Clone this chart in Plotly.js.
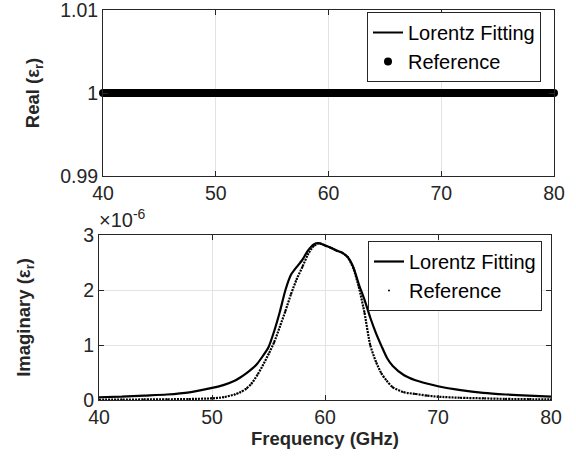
<!DOCTYPE html>
<html>
<head>
<meta charset="utf-8">
<script src="https://cdn.plot.ly/plotly-3.0.1.min.js"></script>
<style>html,body{margin:0;padding:0;background:#fff;}#chart{width:576px;height:458px;}</style>
</head>
<body>
<div id="chart"></div>
<script>
// Frequency samples (GHz)
const freq = [40,42,44,46,48,50,51,52,52.5,53,53.5,54,54.5,55,55.5,56,56.5,57,57.5,58,58.5,59,59.5,60,60.5,61,61.5,62,62.5,63,63.5,64,64.5,65,65.5,66,67,68,69,70,72,74,76,78,80];
// Real part of relative permittivity
const realFit = [1,1,1,1,1,1,1,1,1,1,1,1,1,1,1,1,1,1,1,1,1,1,1,1,1,1,1,1,1,1,1,1,1,1,1,1,1,1,1,1,1,1,1,1,1];
const realRef = [1,1,1,1,1,1,1,1,1,1,1,1,1,1,1,1,1,1,1,1,1,1,1,1,1,1,1,1,1,1,1,1,1,1,1,1,1,1,1,1,1,1,1,1,1];
// Imaginary part (units of 1e-6)
const imagFit = [0.05,0.06,0.08,0.10,0.14,0.22,0.27,0.35,0.41,0.48,0.56,0.66,0.80,0.96,1.25,1.60,2.00,2.28,2.42,2.55,2.72,2.83,2.85,2.81,2.77,2.72,2.68,2.60,2.42,2.10,1.82,1.50,1.22,0.98,0.76,0.62,0.45,0.36,0.30,0.25,0.18,0.13,0.10,0.08,0.06];
const imagRef = [0.005,0.008,0.01,0.013,0.018,0.03,0.05,0.10,0.14,0.20,0.30,0.45,0.63,0.83,1.05,1.33,1.62,1.93,2.20,2.42,2.65,2.80,2.85,2.81,2.77,2.72,2.68,2.60,2.40,2.05,1.58,1.00,0.70,0.48,0.34,0.23,0.14,0.11,0.08,0.06,0.04,0.03,0.02,0.015,0.01];
const xTicks = [40,50,60,70,80];
const realTicks = [0.99,1,1.01];
const realTickText = ['0.99','1','1.01'];
const imagTicks = [0,1,2,3];
const imagTickText = ['0','1','2','3'];

const FONT = '"Liberation Sans", Arial, Helvetica, sans-serif';
const AX = '#262626';
const GRID = '#e3e3e3';

const traces = [
  {x: freq, y: realRef, mode: 'lines', line: {color: '#000', width: 8}, showlegend: false, xaxis: 'x', yaxis: 'y', hoverinfo: 'skip'},
  {x: freq, y: realFit, mode: 'lines', name: 'Lorentz Fitting', line: {color: '#000', width: 2}, xaxis: 'x', yaxis: 'y', legend: 'legend'},
  {x: freq, y: realRef, mode: 'markers', name: 'Reference', marker: {color: '#000', size: 8}, xaxis: 'x', yaxis: 'y', legend: 'legend', cliponaxis: false},
  {x: freq, y: imagFit, mode: 'lines', name: 'Lorentz Fitting', line: {color: '#000', width: 2.2, shape: 'spline', smoothing: 0.6}, xaxis: 'x2', yaxis: 'y2', legend: 'legend2'},
  {x: freq, y: imagRef, mode: 'lines', line: {color: '#000', width: 2.2, shape: 'spline', smoothing: 0.6, dash: '2px,1px'}, showlegend: false, xaxis: 'x2', yaxis: 'y2', hoverinfo: 'skip'},
  {x: freq, y: imagRef, mode: 'markers', name: 'Reference', marker: {color: '#000', size: 2}, xaxis: 'x2', yaxis: 'y2', legend: 'legend2'}
];

function axis(extra) {
  return Object.assign({
    showline: true, linecolor: AX, linewidth: 1, mirror: 'ticks',
    ticks: 'inside', ticklen: 5, tickcolor: AX, tickwidth: 1,
    showgrid: true, gridcolor: GRID, gridwidth: 1, zeroline: false,
    ticklabeloverflow: 'allow',
    tickfont: {family: FONT, size: 19.5, color: AX}
  }, extra);
}

const legendStyle = {
  bgcolor: '#fff', bordercolor: AX, borderwidth: 1,
  font: {family: FONT, size: 20, color: '#000'},
  xanchor: 'left', yanchor: 'top', tracegroupgap: 0
};

const layout = {
  width: 576, height: 458,
  margin: {l: 0, r: 0, t: 0, b: 0},
  paper_bgcolor: '#fff', plot_bgcolor: '#fff',
  font: {family: FONT, color: AX},
  xaxis: axis({domain: [103/576, 554/576], range: [40, 80], tickvals: xTicks, anchor: 'y'}),
  yaxis: axis({domain: [1 - 176/458, 1 - 10/458], range: [0.99, 1.01], tickvals: realTicks, ticktext: realTickText, anchor: 'x',
    title: {text: '<b>Real (ε<sub>r</sub>)</b>', font: {family: FONT, size: 18.5, color: AX}, standoff: 15}}),
  xaxis2: axis({domain: [99/576, 551/576], range: [40, 80], tickvals: xTicks, anchor: 'y2',
    title: {text: '<b>Frequency (GHz)</b>', font: {family: FONT, size: 18.5, color: AX}, standoff: 4}}),
  yaxis2: axis({domain: [1 - 400/458, 1 - 235/458], range: [0, 3], tickvals: imagTicks, ticktext: imagTickText, anchor: 'x2',
    title: {text: '<b>Imaginary (ε<sub>r</sub>)</b>', font: {family: FONT, size: 18.5, color: AX}, standoff: 47}}),
  legend: Object.assign({x: 367/576, y: 1 - 12/458}, legendStyle),
  legend2: Object.assign({x: 368/576, y: 1 - 241/458}, legendStyle),
  annotations: [
    {xref: 'paper', yref: 'paper', x: 97/576, y: 1 - 233/458, xanchor: 'left', yanchor: 'bottom', showarrow: false,
     text: '×10<sup>-6</sup>', font: {family: FONT, size: 20, color: AX}}
  ],
  showlegend: true
};

Plotly.newPlot('chart', traces, layout, {staticPlot: true, displayModeBar: false});
</script>
</body>
</html>
